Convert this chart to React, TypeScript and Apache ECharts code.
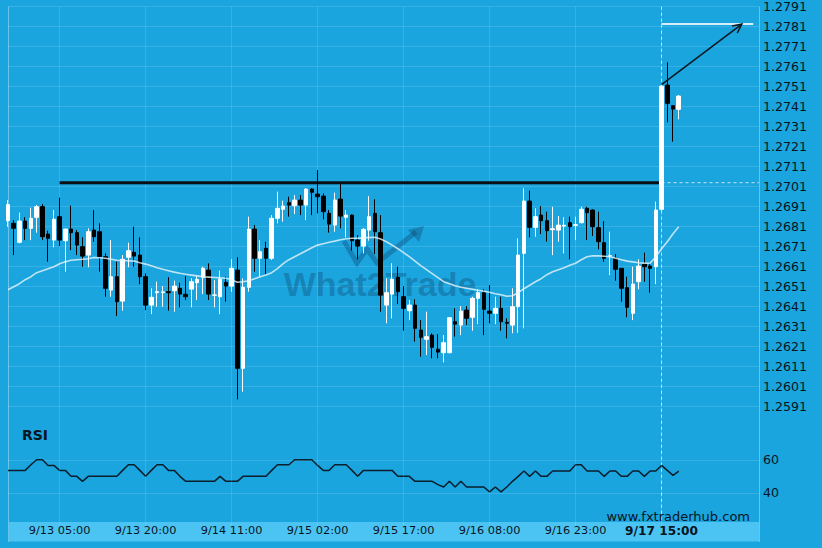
import React, { useEffect, useRef } from "react";
import * as echarts from "echarts";

// ---------- data ----------
const FIRST_INDEX = -9; // first category is 9 hours before 9/13 05:00
const LAST_INDEX = 122; // empty space on the right of the chart
const LABEL_STEP = 15; // a time label every 15 bars
const CROSSHAIR_INDEX = 105; // bar with the highlighted "9/17 15:00" label

const pad2 = (n: number) => (n < 10 ? "0" + n : "" + n);
// hourly bars from 9/12 20:00; one hour (9/17 00:00) is missing in the feed
const CATEGORIES: string[] = [];
for (let i = FIRST_INDEX; i <= LAST_INDEX; i++) {
  const h = i <= 90 ? i : i + 1;
  const d = new Date(Date.UTC(2019, 8, 13, 5) + h * 3600000);
  CATEGORIES.push(`${d.getUTCMonth() + 1}/${d.getUTCDate()} ${pad2(d.getUTCHours())}:00`);
}

// [open, close, low, high] from bar -9 to bar 108
const CANDLES: number[][] = [
  [1.2684, 1.2692, 1.2681, 1.26943],
  [1.26827, 1.26802, 1.26668, 1.26843],
  [1.26732, 1.26838, 1.26727, 1.2688],
  [1.26838, 1.26802, 1.26743, 1.26857],
  [1.26802, 1.26852, 1.26743, 1.26905],
  [1.26857, 1.2691, 1.2678, 1.26918],
  [1.2691, 1.2676, 1.26743, 1.26923],
  [1.26773, 1.26752, 1.26635, 1.2679],
  [1.26743, 1.26847, 1.26707, 1.26893],
  [1.2686, 1.26743, 1.26713, 1.26955],
  [1.2674, 1.26798, 1.26585, 1.268],
  [1.26798, 1.2678, 1.26693, 1.26915],
  [1.2678, 1.26718, 1.26668, 1.26793],
  [1.2671, 1.26663, 1.2661, 1.26757],
  [1.26668, 1.26785, 1.26607, 1.26802],
  [1.26793, 1.2676, 1.26735, 1.26893],
  [1.26785, 1.2666, 1.26585, 1.26827],
  [1.2666, 1.26502, 1.2646, 1.26677],
  [1.26493, 1.2656, 1.2646, 1.26743],
  [1.2656, 1.26435, 1.26363, 1.26635],
  [1.26438, 1.26647, 1.2639, 1.26668],
  [1.26657, 1.2669, 1.26607, 1.2673],
  [1.26682, 1.26663, 1.2661, 1.2681],
  [1.26668, 1.2656, 1.26523, 1.26757],
  [1.2656, 1.26418, 1.26393, 1.26577],
  [1.26418, 1.26457, 1.26373, 1.26502],
  [1.2648, 1.26485, 1.2641, 1.26535],
  [1.2648, 1.26484, 1.2641, 1.26513],
  [1.26485, 1.2648, 1.2639, 1.26557],
  [1.2649, 1.26513, 1.26385, 1.2654],
  [1.26502, 1.26473, 1.26407, 1.2653],
  [1.26472, 1.2646, 1.26443, 1.26563],
  [1.26498, 1.26535, 1.26407, 1.26552],
  [1.2653, 1.26547, 1.26443, 1.26563],
  [1.26557, 1.26602, 1.26473, 1.2661],
  [1.26593, 1.26473, 1.26443, 1.26627],
  [1.26467, 1.26469, 1.26407, 1.26543],
  [1.2646, 1.26547, 1.26373, 1.2659],
  [1.26532, 1.26513, 1.26435, 1.2656],
  [1.26513, 1.26602, 1.26485, 1.26647],
  [1.26593, 1.26102, 1.25947, 1.26657],
  [1.26102, 1.26507, 1.25985, 1.26552],
  [1.26507, 1.26798, 1.26485, 1.2686],
  [1.26798, 1.26652, 1.26585, 1.26818],
  [1.26652, 1.26685, 1.2656, 1.26743],
  [1.26702, 1.26652, 1.26573, 1.26735],
  [1.26652, 1.26852, 1.26643, 1.26868],
  [1.26852, 1.26902, 1.26827, 1.26985],
  [1.26897, 1.26913, 1.26835, 1.2694],
  [1.2693, 1.26918, 1.2686, 1.2696],
  [1.26915, 1.26943, 1.26873, 1.26968],
  [1.26943, 1.26918, 1.26868, 1.26968],
  [1.26918, 1.26998, 1.26843, 1.27002],
  [1.26998, 1.26982, 1.26868, 1.27002],
  [1.26973, 1.2696, 1.26877, 1.27093],
  [1.26963, 1.26885, 1.26847, 1.26977],
  [1.26877, 1.26823, 1.2678, 1.26893],
  [1.26818, 1.26943, 1.26785, 1.2698],
  [1.26948, 1.26863, 1.26802, 1.27027],
  [1.26857, 1.26868, 1.26757, 1.26893],
  [1.26868, 1.2674, 1.2669, 1.2687],
  [1.26743, 1.26713, 1.26647, 1.26768],
  [1.26713, 1.26797, 1.26677, 1.26802],
  [1.26793, 1.2686, 1.2674, 1.26963],
  [1.26877, 1.26785, 1.26673, 1.26947],
  [1.2678, 1.26468, 1.26385, 1.26868],
  [1.26418, 1.2648, 1.26327, 1.26552],
  [1.26473, 1.26547, 1.26352, 1.26627],
  [1.26557, 1.26485, 1.26423, 1.2661],
  [1.2646, 1.26402, 1.2629, 1.26513],
  [1.2639, 1.26418, 1.26343, 1.26443],
  [1.26418, 1.26302, 1.26235, 1.26447],
  [1.26293, 1.26257, 1.2616, 1.26343],
  [1.26247, 1.2626, 1.26168, 1.26385],
  [1.26268, 1.26207, 1.26152, 1.26277],
  [1.26197, 1.26183, 1.26152, 1.26273],
  [1.2618, 1.2623, 1.26132, 1.26268],
  [1.2618, 1.26355, 1.26177, 1.26355],
  [1.26335, 1.26323, 1.2626, 1.26402],
  [1.26318, 1.26388, 1.26268, 1.26413],
  [1.26393, 1.26352, 1.26318, 1.26413],
  [1.26357, 1.26452, 1.2629, 1.2646],
  [1.26452, 1.2648, 1.26323, 1.26497],
  [1.2648, 1.26397, 1.26268, 1.26497],
  [1.26388, 1.26377, 1.26327, 1.26518],
  [1.26377, 1.26402, 1.26323, 1.2646],
  [1.26402, 1.26335, 1.2629, 1.2646],
  [1.26332, 1.26327, 1.26252, 1.26352],
  [1.26318, 1.2641, 1.26277, 1.26502],
  [1.2641, 1.26668, 1.2628, 1.26752],
  [1.26677, 1.26938, 1.26302, 1.27002],
  [1.26938, 1.26807, 1.26757, 1.2699],
  [1.26807, 1.2686, 1.2676, 1.26902],
  [1.26868, 1.2684, 1.26773, 1.26913],
  [1.2684, 1.2679, 1.26735, 1.26885],
  [1.26795, 1.268, 1.26668, 1.2691],
  [1.26793, 1.26818, 1.26735, 1.26863],
  [1.26813, 1.26817, 1.26677, 1.26857],
  [1.2683, 1.2681, 1.26647, 1.2686],
  [1.26817, 1.2682, 1.26743, 1.2686],
  [1.2683, 1.26897, 1.26827, 1.2691],
  [1.26902, 1.2688, 1.26743, 1.2691],
  [1.26893, 1.2681, 1.26763, 1.26897],
  [1.26805, 1.26735, 1.26697, 1.26885],
  [1.2673, 1.26652, 1.26635, 1.26838],
  [1.26663, 1.26665, 1.26568, 1.26785],
  [1.26652, 1.26597, 1.2654, 1.26673],
  [1.26602, 1.26502, 1.26435, 1.26602],
  [1.26505, 1.26407, 1.26357, 1.2656],
  [1.26377, 1.26523, 1.26343, 1.2661],
  [1.26535, 1.26613, 1.26497, 1.26647],
  [1.26623, 1.2661, 1.26535, 1.2668],
  [1.26613, 1.26602, 1.2648, 1.26627],
  [1.2661, 1.26893, 1.26523, 1.26935],
  [1.26897, 1.27513, 1.2689, 1.2752],
  [1.27518, 1.27427, 1.27332, 1.27632],
  [1.27415, 1.27398, 1.27235, 1.27415],
  [1.27397, 1.27463, 1.27347, 1.27468],
];

// moving average, bar -9 to bar 108
const MOVING_AVERAGE: number[] = [
  1.26495, 1.2651, 1.26525, 1.26545, 1.2656, 1.2658, 1.2659, 1.266, 1.2661, 1.26625,
  1.26635, 1.26642, 1.26645, 1.26647, 1.2665, 1.26656, 1.26655, 1.26652, 1.26647, 1.26642,
  1.2664, 1.2664, 1.26638, 1.2663, 1.26623, 1.26615, 1.26605, 1.26597, 1.2659, 1.26583,
  1.26577, 1.26572, 1.26568, 1.26564, 1.2656, 1.26558, 1.26556, 1.26554, 1.26552, 1.26545,
  1.26532, 1.26535, 1.2654, 1.2655, 1.2656, 1.26568, 1.2658, 1.266, 1.26625, 1.26645,
  1.2666, 1.26675, 1.2669, 1.26705, 1.26718, 1.26725, 1.26732, 1.26738, 1.26745, 1.2675,
  1.26752, 1.26752, 1.26754, 1.26756, 1.26757, 1.26748, 1.26735, 1.26718, 1.267, 1.2668,
  1.2666, 1.26638, 1.26615, 1.26595, 1.26575, 1.26555, 1.26535, 1.26525, 1.26515, 1.26507,
  1.26502, 1.26497, 1.26492, 1.26487, 1.26482, 1.26475, 1.2647, 1.26462, 1.26465, 1.2648,
  1.265, 1.26517, 1.26535, 1.2655, 1.2657, 1.26585, 1.26595, 1.26605, 1.26617, 1.26627,
  1.26645, 1.2666, 1.26665, 1.26664, 1.26662, 1.2666, 1.26652, 1.26645, 1.26638, 1.26634,
  1.2663, 1.26628, 1.26627, 1.2666, 1.267, 1.26735, 1.26775, 1.2681,
];

// RSI, bar -9 to bar 108
const RSI_VALUES: number[] = [
  53.6, 53.6, 53.6, 53.6, 57, 60, 60, 56.6, 56.6, 53.6,
  53.6, 50, 50, 47, 50, 50, 50, 50, 50, 50,
  53.6, 57, 57, 53.6, 50, 53.6, 57, 57, 53.6, 53.6,
  50, 47, 47, 47, 47, 47, 47, 50, 47, 47,
  47, 50, 50, 50, 50, 50, 53.6, 57, 57, 57,
  60, 60, 60, 60, 56.6, 53.6, 53.6, 57, 57, 57,
  53.6, 50, 53.6, 53.6, 53.6, 53.6, 53.6, 53.6, 50, 50,
  50, 47, 47, 47, 47, 45, 43.6, 47, 43.6, 47,
  43.6, 43.6, 43.6, 43.6, 40.6, 43.6, 40.6, 43.6, 47, 50,
  53.2, 50, 53.2, 50, 50, 53.2, 53.2, 53.2, 53.2, 57,
  57, 53.2, 53.2, 53.2, 50, 53.2, 53.2, 50, 50, 53.2,
  53.2, 50, 53.2, 53.2, 56.6, 53.6, 50.6, 53.2,
];

const PRICE_MIN = 1.2581;
const PRICE_MAX = 1.2791;
const PRICE_STEP = 0.001;
const RSI_MIN = 20;
const RSI_MAX = 80;
const RSI_STEP = 20;

// annotation levels
const RESISTANCE_LEVEL = 1.2703;
const RESISTANCE_START = 0;
const TARGET_LEVEL = 1.27823;
const TARGET_END = 121;
const ARROW_FROM = 1.2752;
const ARROW_TO_INDEX = 119;

// ---------- styles ----------
const BG = "#1aa5df";
const BAND = "#4bc4f3";
const GRID_LINE = "rgba(255,255,255,0.13)";
const TEXT = "#08141e";
const FONT = "DejaVu Sans";

export default function App() {
  const ref = useRef<HTMLDivElement>(null);

  useEffect(() => {
    document.body.style.margin = "0";
    document.body.style.background = BG;
    const chart = echarts.init(ref.current!, undefined, { renderer: "svg", width: 822, height: 548 });

    const showTick = (index: number) => {
      const i = index + FIRST_INDEX;
      return i >= 0 && i % LABEL_STEP === 0 && i <= CROSSHAIR_INDEX;
    };

    chart.setOption({
      animation: false,
      backgroundColor: BG,
      grid: [
        { left: 8, width: 751, top: 6.7, height: 420 },
        { left: 8, width: 751, top: 426.7, height: 99.3 },
      ],
      xAxis: [
        {
          type: "category",
          gridIndex: 0,
          data: CATEGORIES,
          boundaryGap: false,
          axisLine: { show: false },
          axisTick: { show: false },
          axisLabel: { show: false },
          splitLine: { show: true, interval: showTick, lineStyle: { color: GRID_LINE, width: 1 } },
        },
        {
          type: "category",
          gridIndex: 1,
          data: CATEGORIES,
          boundaryGap: false,
          z: 60,
          axisLine: { show: false },
          axisTick: { show: false },
          axisLabel: {
            interval: showTick,
            margin: -1,
            color: TEXT,
            fontSize: 11.3,
            fontFamily: FONT,
            formatter: (value: string, index: number) =>
              index + FIRST_INDEX === CROSSHAIR_INDEX ? `{b|${value}}` : value,
            rich: {
              b: { fontWeight: "bold", fontSize: 12.2, fontFamily: FONT, color: TEXT },
            },
          },
          splitLine: { show: true, interval: showTick, lineStyle: { color: GRID_LINE, width: 1 } },
        },
      ],
      yAxis: [
        {
          type: "value",
          gridIndex: 0,
          position: "right",
          min: PRICE_MIN,
          max: PRICE_MAX,
          interval: PRICE_STEP,
          axisLine: { show: false },
          axisTick: { show: false },
          axisLabel: {
            showMinLabel: false,
            margin: 4,
            color: TEXT,
            fontSize: 12.6,
            fontFamily: FONT,
            formatter: (v: number) => v.toFixed(4),
          },
          splitLine: { show: true, showMinLine: false, lineStyle: { color: GRID_LINE, width: 1 } },
        },
        {
          type: "value",
          gridIndex: 1,
          position: "right",
          min: RSI_MIN,
          max: RSI_MAX,
          interval: RSI_STEP,
          axisLine: { show: false },
          axisTick: { show: false },
          axisLabel: {
            showMinLabel: false,
            showMaxLabel: false,
            margin: 4,
            color: TEXT,
            fontSize: 12.6,
            fontFamily: FONT,
          },
          splitLine: { show: true, showMinLine: false, showMaxLine: false, lineStyle: { color: GRID_LINE, width: 1 } },
        },
      ],
      series: [
        {
          type: "candlestick",
          xAxisIndex: 0,
          yAxisIndex: 0,
          data: CANDLES,
          barWidth: 4,
          z: 3,
          itemStyle: {
            color: "#ffffff",
            color0: "#000000",
            borderColor: "#ffffff",
            borderColor0: "#000000",
            borderWidth: 1,
          },
        },
        {
          type: "line",
          xAxisIndex: 0,
          yAxisIndex: 0,
          data: MOVING_AVERAGE,
          symbol: "none",
          z: 4,
          lineStyle: { color: "rgba(232,244,250,0.8)", width: 1.6 },
        },
        {
          type: "line",
          xAxisIndex: 1,
          yAxisIndex: 1,
          data: RSI_VALUES,
          symbol: "none",
          z: 4,
          lineStyle: { color: "#0a1e2c", width: 1.5 },
        },
      ],
    });

    const px = (i: number, v: number) =>
      chart.convertToPixel({ gridIndex: 0 }, [CATEGORIES[i - FIRST_INDEX], v]) as number[];

    const resStart = px(RESISTANCE_START, RESISTANCE_LEVEL);
    const resEnd = px(CROSSHAIR_INDEX, RESISTANCE_LEVEL);
    const tgtStart = px(CROSSHAIR_INDEX, TARGET_LEVEL);
    const tgtEnd = px(TARGET_END, TARGET_LEVEL);
    const arrA = px(CROSSHAIR_INDEX, ARROW_FROM);
    const arrB = px(ARROW_TO_INDEX, TARGET_LEVEL);
    const ang = Math.atan2(arrB[1] - arrA[1], arrB[0] - arrA[0]);
    const headLen = 10;
    const spread = 0.45;
    const h1 = [arrB[0] - headLen * Math.cos(ang - spread), arrB[1] - headLen * Math.sin(ang - spread)];
    const h2 = [arrB[0] - headLen * Math.cos(ang + spread), arrB[1] - headLen * Math.sin(ang + spread)];
    const rightEdge = 759;
    const top = 6.7;
    const wm = "rgba(16,58,96,0.33)";

    chart.setOption({
      graphic: [
        // panel borders
        { type: "line", z: 1, silent: true, shape: { x1: 8.5, y1: top, x2: 8.5, y2: 542 }, style: { stroke: "rgba(255,255,255,0.35)", lineWidth: 1 } },
        { type: "line", z: 1, silent: true, shape: { x1: rightEdge + 0.5, y1: top, x2: rightEdge + 0.5, y2: 542 }, style: { stroke: "rgba(255,255,255,0.35)", lineWidth: 1 } },
        // time band
        { type: "rect", z: 50, silent: true, shape: { x: 9, y: 522, width: rightEdge - 9, height: 19.5 }, style: { fill: BAND } },
        // watermark
        {
          type: "text",
          z: 1,
          silent: true,
          x: 380,
          y: 284,
          style: { text: "What2Trade", fill: wm, font: 'bold 34px "Liberation Sans"', align: "center", verticalAlign: "middle" },
        },
        {
          type: "polyline",
          z: 1,
          silent: true,
          shape: { points: [[344, 241], [357, 263], [367, 249], [377, 263], [416, 232]] },
          style: { stroke: wm, lineWidth: 5, fill: "none", lineJoin: "miter" },
        },
        {
          type: "polygon",
          z: 1,
          silent: true,
          shape: { points: [[424, 226], [408, 230], [419, 242]] },
          style: { fill: wm },
        },
        // crosshair
        { type: "line", z: 2, silent: true, shape: { x1: resEnd[0], y1: top, x2: resEnd[0], y2: 522 }, style: { stroke: "rgba(230,242,248,0.85)", lineWidth: 1, lineDash: [3, 3] } },
        { type: "line", z: 2, silent: true, shape: { x1: resEnd[0], y1: resEnd[1], x2: rightEdge, y2: resEnd[1] }, style: { stroke: "rgba(230,242,248,0.85)", lineWidth: 1, lineDash: [3, 3] } },
        // resistance
        { type: "line", z: 2, silent: true, shape: { x1: resStart[0], y1: resStart[1], x2: resEnd[0], y2: resEnd[1] }, style: { stroke: "#0a0f14", lineWidth: 3 } },
        // target
        { type: "line", z: 10, silent: true, shape: { x1: tgtStart[0], y1: tgtStart[1], x2: tgtEnd[0], y2: tgtEnd[1] }, style: { stroke: "rgba(225,240,248,0.95)", lineWidth: 2 } },
        { type: "line", z: 11, silent: true, shape: { x1: arrA[0], y1: arrA[1], x2: arrB[0], y2: arrB[1] }, style: { stroke: "#0c1a24", lineWidth: 1.6 } },
        { type: "polyline", z: 11, silent: true, shape: { points: [h1, arrB, h2] }, style: { stroke: "#0c1a24", lineWidth: 1.6, fill: "none" } },
        // texts
        { type: "text", z: 20, silent: true, x: 22, y: 435, style: { text: "RSI", fill: TEXT, font: `bold 14px "${FONT}"`, align: "left", verticalAlign: "middle" } },
        { type: "text", z: 20, silent: true, x: 750, y: 516.5, style: { text: "www.fxtraderhub.com", fill: TEXT, font: `13px "${FONT}"`, align: "right", verticalAlign: "middle" } },
      ],
    });

    return () => chart.dispose();
  }, []);

  return <div ref={ref} style={{ position: "absolute", left: 0, top: 0, width: 822, height: 548 }} />;
}
